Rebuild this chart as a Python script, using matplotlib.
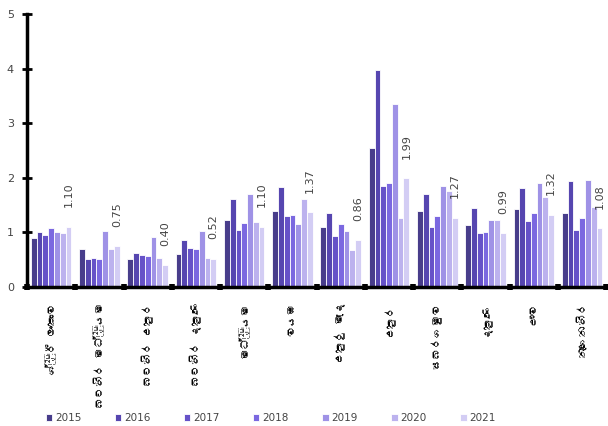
import matplotlib
matplotlib.use('Agg')
import matplotlib.pyplot as plt
from matplotlib import font_manager, ft2font
import numpy as np

# Provinces (Sinhala)
categories = ['ශ්‍රී ලංකාව', 'බටහිර මධ්‍යම', 'බටහිර උතුර', 'බටහිර දකුණ', 'මධ්‍යම', 'වයඹ',
              'උතුරු මැද', 'උතුර', 'සබරගමුව', 'දකුණ', 'ඌව', 'නැගෙනහිර']
years = ['2015', '2016', '2017', '2018', '2019', '2020', '2021']

v2015 = [0.89, 0.69, 0.52, 0.61, 1.22, 1.39, 1.10, 2.55, 1.39, 1.13, 1.43, 1.35]
v2016 = [1.01, 0.52, 0.63, 0.86, 1.61, 1.83, 1.35, 3.98, 1.70, 1.45, 1.82, 1.94]
v2017 = [0.95, 0.54, 0.58, 0.71, 1.05, 1.30, 0.93, 1.85, 1.10, 0.98, 1.20, 1.05]
v2018 = [1.08, 0.52, 0.56, 0.69, 1.17, 1.31, 1.15, 1.91, 1.30, 1.00, 1.35, 1.27]
v2019 = [1.00, 1.03, 0.91, 1.03, 1.71, 1.15, 1.03, 3.36, 1.85, 1.22, 1.91, 1.96]
v2020 = [0.98, 0.69, 0.54, 0.54, 1.19, 1.61, 0.67, 1.27, 1.76, 1.22, 1.64, 1.47]
v2021 = [1.10, 0.75, 0.40, 0.52, 1.10, 1.37, 0.86, 1.99, 1.27, 0.99, 1.32, 1.08]

series = [v2015, v2016, v2017, v2018, v2019, v2020, v2021]
colors = ['#483D8B', '#5646B0', '#6652C8', '#7B68E0', '#9F92E6', '#BCB2EE', '#D3CDF4']

# look for any installed font that has Sinhala glyphs
sinhala_fam = None
for f in font_manager.fontManager.ttflist:
    try:
        cmap = ft2font.FT2Font(f.fname).get_charmap()
    except Exception:
        continue
    if 0x0D9A in cmap and 0x0DBD in cmap:
        sinhala_fam = f.name
        break
label_fam = [sinhala_fam, 'DejaVu Sans'] if sinhala_fam else ['DejaVu Sans']

fig = plt.figure(figsize=(6.08, 4.26), dpi=100)
ax = fig.add_axes([0.0444, 0.3263, 0.9526, 0.6408])

x = np.arange(len(categories))
width = 0.12
for i, (vals, yr) in enumerate(zip(series, years)):
    ax.bar(x + (i - 3) * width, vals, width, color=colors[i], edgecolor='white',
           linewidth=0.6, label=yr)

# value labels for 2021
for xi, v in zip(x, v2021):
    ax.annotate(f'{v:.2f}', (xi + 3 * width, v), xytext=(0, 14), textcoords='offset points',
                rotation=90, ha='center', va='bottom', fontsize=8, color='#444444')

ax.set_xlim(-0.5, len(categories) - 0.5)
ax.set_ylim(0, 5)
ax.set_yticks(range(6))
ax.tick_params(axis='y', direction='inout', length=7, width=2, pad=6,
               labelsize=8, labelcolor='#444444')

ax.set_xticks(x)
ax.set_xticklabels(categories, rotation=90, va='top', ha='center', fontsize=8,
                   family=label_fam)
ax.tick_params(axis='x', length=0, pad=11)
ax.set_xticks(np.arange(-0.5, len(categories)), minor=True)
ax.tick_params(axis='x', which='minor', direction='inout', length=4, width=4)

for s in ['top', 'right']:
    ax.spines[s].set_visible(False)
ax.spines['left'].set_linewidth(2.5)
ax.spines['bottom'].set_linewidth(2.5)

fig.legend(loc='center', bbox_to_anchor=(271 / 608, 1 - 418 / 426), ncol=7, frameon=False,
           fontsize=7.5, handlelength=0.6, handleheight=0.6, handletextpad=0.3,
           columnspacing=3.2, labelcolor='#444444')

plt.savefig('out.png', dpi=100)
plt.close()
